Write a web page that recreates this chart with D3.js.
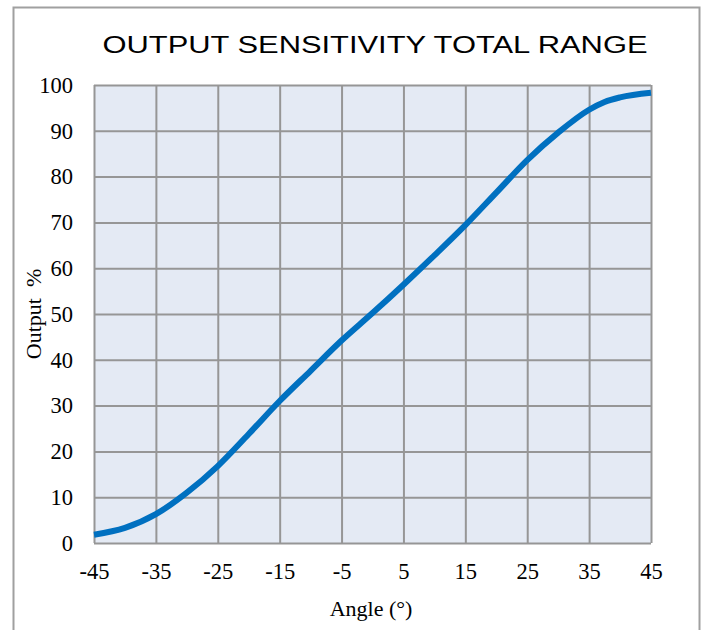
<!DOCTYPE html>
<html>
<head>
<meta charset="utf-8">
<script src="https://cdn.jsdelivr.net/npm/d3@7"></script>
<style>
  body { margin: 0; background: #fff; }
</style>
</head>
<body>
<svg id="chart"></svg>
<script>
// values
var angles = [-45, -40, -35, -30, -25, -20, -15, -10, -5, 0, 5, 10, 15, 20, 25, 30, 35, 37.5, 40, 45];
var outputs = [1.8, 3.3, 6.3, 11, 16.8, 23.8, 31, 37.6, 44.2, 50.2, 56.4, 62.8, 69.4, 76.5, 83.6, 89.6, 94.6, 96.3, 97.3, 98.3];
var xTicks = [-45, -35, -25, -15, -5, 5, 15, 25, 35, 45];
var yTicks = [0, 10, 20, 30, 40, 50, 60, 70, 80, 90, 100];

var dataset = angles.map((a, i) => ({angle: a, output: outputs[i]}));

var dimensions = {
    width: 704,
    height: 630,
    margin: { top: 85, bottom: 87, left: 94, right: 53 }
}

var serif = "'Liberation Serif', 'Times New Roman', serif";

var svg = d3.select("#chart")
    .attr("width", dimensions.width)
    .attr("height", dimensions.height);

// outer frame
svg.append("rect")
    .attr("x", 13.5).attr("y", 7.5)
    .attr("width", 686).attr("height", 640)
    .attr("fill", "none")
    .attr("stroke", "#a0a0a0")
    .attr("stroke-width", 2);

var xScale = d3.scaleLinear()
    .domain([-45, 45])
    .range([dimensions.margin.left, dimensions.width - dimensions.margin.right]);

var yScale = d3.scaleLinear()
    .domain([0, 100])
    .range([dimensions.height - dimensions.margin.bottom, dimensions.margin.top]);

// plot background
svg.append("rect")
    .attr("x", xScale(-45)).attr("y", yScale(100))
    .attr("width", xScale(45) - xScale(-45))
    .attr("height", yScale(0) - yScale(100))
    .attr("fill", "#e4eaf4");

// grid via axes
var gridX = svg.append("g")
    .attr("transform", `translate(0,${yScale(0)})`)
    .call(d3.axisBottom(xScale).tickValues(xTicks).tickSize(-(yScale(0) - yScale(100))).tickFormat(""));
var gridY = svg.append("g")
    .attr("transform", `translate(${xScale(-45)},0)`)
    .call(d3.axisLeft(yScale).tickValues(yTicks).tickSize(-(xScale(45) - xScale(-45))).tickFormat(""));
[gridX, gridY].forEach(g => {
    g.select(".domain").remove();
    g.selectAll("line").attr("stroke", "#969696").attr("stroke-width", 2);
});

// tick labels (plain hyphen minus like the original)
var xAxis = svg.append("g")
    .attr("transform", `translate(0,${yScale(0)})`)
    .call(d3.axisBottom(xScale).tickValues(xTicks).tickSize(0).tickPadding(20).tickFormat(d => String(d)));
var yAxis = svg.append("g")
    .attr("transform", `translate(${xScale(-45)},0)`)
    .call(d3.axisLeft(yScale).tickValues(yTicks).tickSize(0).tickPadding(21).tickFormat(d => String(d)));
[xAxis, yAxis].forEach(g => {
    g.select(".domain").remove();
    g.selectAll("text")
        .attr("fill", "#000")
        .style("font-family", serif)
        .style("font-size", "22.5px");
});

// curve
var line = d3.line()
    .x(d => xScale(d.angle))
    .y(d => yScale(d.output))
    .curve(d3.curveMonotoneX);

svg.append("path")
    .datum(dataset)
    .attr("d", line)
    .attr("fill", "none")
    .attr("stroke", "#0070c0")
    .attr("stroke-width", 6);

// title
svg.append("text")
    .attr("x", 375).attr("y", 53)
    .attr("text-anchor", "middle")
    .attr("textLength", 545)
    .attr("lengthAdjust", "spacingAndGlyphs")
    .style("font-family", "'Liberation Sans', Arial, sans-serif")
    .style("font-size", "23px")
    .text("OUTPUT SENSITIVITY TOTAL RANGE");

// axis titles
svg.append("text")
    .attr("x", 371).attr("y", 616)
    .attr("text-anchor", "middle")
    .style("font-family", serif)
    .style("font-size", "22px")
    .text("Angle (°)");

svg.append("text")
    .attr("transform", `translate(41,${(yScale(0) + yScale(100)) / 2}) rotate(-90)`)
    .attr("text-anchor", "middle")
    .style("font-family", serif)
    .style("font-size", "22px")
    .style("white-space", "pre")
    .text("Output  %");
</script>
</body>
</html>
